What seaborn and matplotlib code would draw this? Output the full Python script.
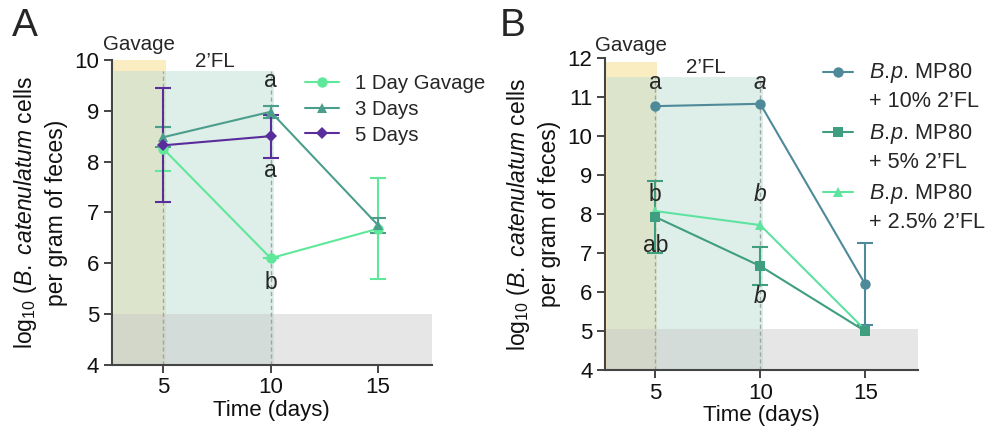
import numpy as np
import pandas as pd
import matplotlib
matplotlib.use("Agg")
import matplotlib.pyplot as plt
import seaborn as sns

# ---------------- data ----------------
days = [5, 10, 15]

a_groups = ["1 Day Gavage", "3 Days", "5 Days"]
a_1day_mean = [8.25, 6.10, 6.68]
a_1day_sd = [0.43, 0.0, 0.99]
a_3day_mean = [8.48, 8.98, 6.75]
a_3day_sd = [0.20, 0.12, 0.15]
a_5day_days = [5, 10]
a_5day_mean = [8.32, 8.50]
a_5day_sd = [1.12, 0.42]

b_groups = ["B.p. MP80 + 10% 2'FL", "B.p. MP80 + 5% 2'FL", "B.p. MP80 + 2.5% 2'FL"]
b_10_mean = [10.77, 10.83, 6.20]
b_10_sd = [0.0, 0.0, 1.05]
b_5_mean = [7.93, 6.67, 5.00]
b_5_sd = [0.92, 0.48, 0.0]
b_25_mean = [8.08, 7.72, 5.03]
b_25_sd = [0.0, 0.0, 0.0]

a_letters = ["a", "a", "b"]
a_letter_x = [10, 10, 10]
a_letter_y = [9.59, 7.83, 5.63]
b_letters = ["a", "b", "ab", "a", "b", "b"]
b_letter_x = [5, 5, 5, 10, 10, 10]
b_letter_y = [11.38, 8.51, 7.20, 11.38, 8.51, 5.90]
b_letter_italic = [False, False, False, True, True, True]

# ---------------- style ----------------
sns.set_theme(style="ticks")
plt.rcParams["font.family"] = ["Liberation Sans", "DejaVu Sans"]
plt.rcParams["mathtext.fontset"] = "custom"
plt.rcParams["mathtext.rm"] = "Liberation Sans"
plt.rcParams["mathtext.it"] = "Liberation Sans:italic"

FS = 16
spine_c = "#444444"
txt_c = "#111111"

fig = plt.figure(figsize=(9.9, 4.34), dpi=100)
axA = fig.add_axes([0.113, 0.159, 0.323, 0.703])
axB = fig.add_axes([0.611, 0.147, 0.316, 0.719])

a_colors = {"1 Day Gavage": "#5fe89a", "3 Days": "#4c9e8c", "5 Days": "#5a2d9c"}
a_markers = {"1 Day Gavage": "o", "3 Days": "^", "5 Days": "D"}
b_colors = {b_groups[0]: "#4e8a99", b_groups[1]: "#3f9e80", b_groups[2]: "#5ee3a0"}
b_markers = {b_groups[0]: "o", b_groups[1]: "s", b_groups[2]: "^"}
b_disp = {g: r"$\mathit{B.\!p.\!}$ MP80" + "\n" + "+ " + g.split("+ ")[1].replace("'", "\u2019")
          for g in b_groups}


def shade(ax, xl, top, teal_top, yellow_end, teal_end, gray_top):
    ax.fill_between([xl, yellow_end], 4, top, color="#f7dc85", alpha=0.5, lw=0, zorder=0)
    ax.fill_between([xl + 0.1, teal_end], 4, teal_top, color="#c4e0d6", alpha=0.55, lw=0, zorder=0.5)
    ax.fill_between([xl, 17.5], 4, gray_top, color="#c8c8c8", alpha=0.45, lw=0, zorder=0.6)
    ax.vlines([5, 10], 4, teal_top, colors="#9aa8a2", linestyles=(0, (3, 2)), lw=1, zorder=0.7)


def style_axes(ax, ymax):
    ax.set_xlim(2.6, 17.5)
    ax.set_ylim(4, ymax)
    ax.set_xticks([5, 10, 15])
    ax.set_yticks(range(4, ymax + 1))
    sns.despine(ax=ax)
    for s in ["left", "bottom"]:
        ax.spines[s].set_color(spine_c)
        ax.spines[s].set_linewidth(1.5)
    ax.tick_params(direction="out", length=6, width=1.4, color=spine_c,
                   labelsize=FS, pad=3, labelcolor=txt_c)
    ax.set_xlabel("Time (days)", fontsize=FS, labelpad=1, color=txt_c)
    ax.set_ylabel(r"log$_{10}$ ($\mathit{B.\ catenulatum}$ cells" + "\n" + "per gram of feces)",
                  fontsize=16.5, labelpad=5, color=txt_c, linespacing=1.3)


# ---------------- Panel A ----------------
dfA = pd.concat([
    pd.DataFrame({"day": days, "value": a_1day_mean, "sd": a_1day_sd, "group": a_groups[0]}),
    pd.DataFrame({"day": days, "value": a_3day_mean, "sd": a_3day_sd, "group": a_groups[1]}),
    pd.DataFrame({"day": a_5day_days, "value": a_5day_mean, "sd": a_5day_sd, "group": a_groups[2]}),
], ignore_index=True)

shade(axA, 2.6, 10, 9.78, 5.1, 10.15, 5.0)
for g in a_groups:
    sub = dfA[dfA.group == g]
    axA.errorbar(sub.day, sub.value, yerr=sub.sd, fmt="none", ecolor=a_colors[g],
                 elinewidth=1.5, capsize=6, capthick=1.5, zorder=2)
sns.lineplot(data=dfA, x="day", y="value", hue="group", style="group",
             hue_order=a_groups, style_order=a_groups,
             palette=a_colors, markers=a_markers, dashes=False, errorbar=None,
             markersize=7.5, markeredgewidth=0, linewidth=1.5, ax=axA, zorder=3)
for ln in axA.lines:
    if ln.get_marker() == "D":
        ln.set_markersize(6)
style_axes(axA, 10)
sns.move_legend(axA, "upper left", bbox_to_anchor=(0.577, 0.98), frameon=False, title=None,
                fontsize=14.7, handlelength=1.7, handletextpad=0.75, labelspacing=0.33,
                borderaxespad=0)
for h in axA.get_legend().legend_handles:
    if h.get_marker() == "D":
        h.set_markersize(6)

axA.text(3.88, 10.3, "Gavage", fontsize=14.8, ha="center", va="center", clip_on=False)
axA.text(7.4, 9.97, "2\u2019FL", fontsize=14.8, ha="center", va="center")
for t, x, y in zip(a_letters, a_letter_x, a_letter_y):
    axA.text(x, y, t, fontsize=FS + 0.5, ha="center", va="center", zorder=4)

# ---------------- Panel B ----------------
dfB = pd.concat([
    pd.DataFrame({"day": days, "value": b_10_mean, "sd": b_10_sd, "group": b_groups[0]}),
    pd.DataFrame({"day": days, "value": b_5_mean, "sd": b_5_sd, "group": b_groups[1]}),
    pd.DataFrame({"day": days, "value": b_25_mean, "sd": b_25_sd, "group": b_groups[2]}),
], ignore_index=True)
dfB["label"] = dfB.group.map(b_disp)
b_order = [b_disp[g] for g in b_groups]

shade(axB, 2.6, 11.9, 11.51, 5.1, 10.15, 5.05)
for g in b_groups:
    sub = dfB[(dfB.group == g) & (dfB.sd > 0)]
    axB.errorbar(sub.day, sub.value, yerr=sub.sd, fmt="none", ecolor=b_colors[g],
                 elinewidth=1.5, capsize=6, capthick=1.5, zorder=2)
sns.lineplot(data=dfB, x="day", y="value", hue="label", style="label",
             hue_order=b_order, style_order=b_order,
             palette={b_disp[g]: b_colors[g] for g in b_groups},
             markers={b_disp[g]: b_markers[g] for g in b_groups},
             dashes=False, errorbar=None,
             markersize=7.5, markeredgewidth=0, linewidth=1.5, ax=axB, zorder=3)
for ln in axB.lines:
    if ln.get_marker() == "s":
        ln.set_zorder(3.5)
style_axes(axB, 12)
sns.move_legend(axB, "upper left", bbox_to_anchor=(0.687, 1.0), frameon=False, title=None,
                fontsize=15.6, handlelength=1.4, handletextpad=0.7, labelspacing=0.42,
                borderaxespad=0, borderpad=0.15)
legB = axB.get_legend()
for t in legB.get_texts():
    t.set_linespacing(1.38)
# align each legend handle with the first line of its two-line label
for h in legB.legend_handles:
    h.set_ydata(np.asarray(h.get_ydata(), dtype=float) + 11)

axB.text(3.86, 12.33, "Gavage", fontsize=14.8, ha="center", va="center", clip_on=False)
axB.text(7.42, 11.77, "2\u2019FL", fontsize=14.8, ha="center", va="center")
for t, x, y, it in zip(b_letters, b_letter_x, b_letter_y, b_letter_italic):
    axB.text(x, y, t, fontsize=FS + 0.5, ha="center", va="center", zorder=4,
             style="italic" if it else "normal")

# panel letters
fig.text(0.012, 0.94, "A", fontsize=28, ha="left", va="center")
fig.text(0.505, 0.94, "B", fontsize=28, ha="left", va="center")

fig.savefig("out.png", dpi=100)
